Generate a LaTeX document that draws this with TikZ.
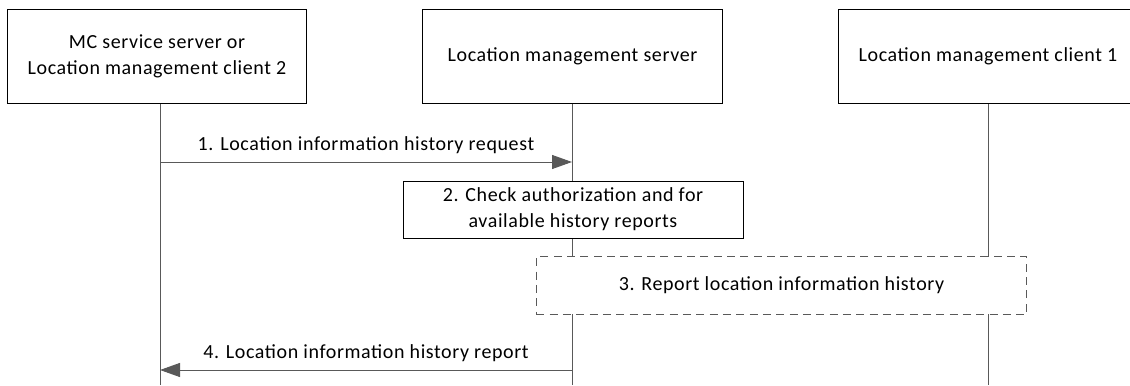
\documentclass[tikz,border=0pt]{standalone}
\usepackage{fontspec}
\setmainfont[LetterSpace=3]{Carlito}
\usetikzlibrary{arrows.meta}
\begin{document}
\begin{tikzpicture}[x=0.75pt,y=-0.75pt,
  every node/.style={font=\fontsize{15pt}{19.5pt}\selectfont, inner sep=0pt},
  entity/.style={draw=black, line width=0.75pt, minimum width=224.5pt, minimum height=71pt, align=center},
  lifeline/.style={draw=black!65, line width=0.75pt},
  msg/.style={draw=black!65, line width=0.75pt, -{Triangle[length=15pt,width=10.5pt]}},
  stepbox/.style={draw=black, line width=0.75pt, fill=white, align=center},
  dbox/.style={draw=black!65, line width=0.75pt, dash pattern=on 6pt off 4pt, fill=white, align=center}]
\useasboundingbox (0,0) rectangle (1130,385);
\begin{scope}
\clip (0,0) rectangle (1130,385);
\node[entity] (A) at (157,56.5) {MC service server or\\Location management client 2};
\node[entity] (B) at (572.5,56.5) {Location management server};
\node[entity] (C) at (988,56.5) {Location management client 1};
\coordinate (Ae) at (160,385);
\coordinate (Be) at (572,385);
\coordinate (Ce) at (988,385);
\draw[lifeline] (A.south -| Ae) -- (Ae);
\draw[lifeline] (B.south -| Be) -- (Be);
\draw[lifeline] (C.south) -- (Ce);
\coordinate (m1s) at (160,162);
\coordinate (m1e) at (572,162);
\draw[msg] (m1s) -- node[above=6pt] {1. Location information history request} (m1e);
\node[stepbox, minimum width=255pt, minimum height=42.75pt] (S2) at (573,209.5) {2. Check authorization and for\\available history reports};
\node[dbox, minimum width=368pt, minimum height=43pt] (S3) at (781.5,285.5) {3. Report location information history};
\coordinate (m4s) at (572,370);
\coordinate (m4e) at (160,370);
\draw[msg] (m4s) -- node[above=6pt] {4. Location information history report} (m4e);
\end{scope}
\end{tikzpicture}
\end{document}
